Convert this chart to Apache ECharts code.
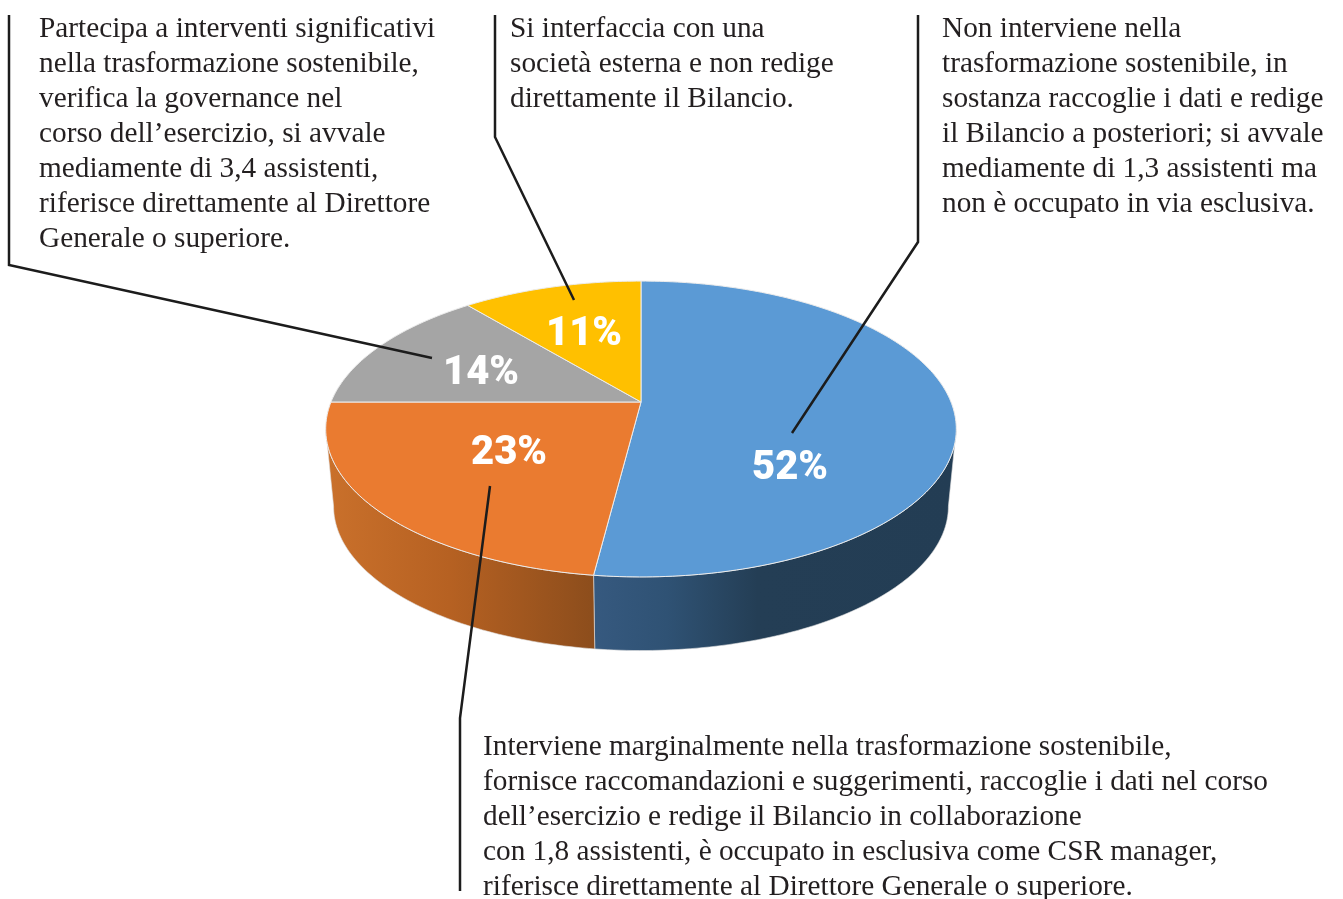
<!DOCTYPE html>
<html>
<head>
<meta charset="utf-8">
<title>Bilancio - ruolo del CSR manager</title>
<script src="https://cdn.jsdelivr.net/npm/echarts@6/dist/echarts.min.js"></script>
<style>
  html, body { margin: 0; padding: 0; background: #fff; }
  #chart { width: 1343px; height: 899px; }
</style>
</head>
<body>
<div id="chart"></div>
<script>
// values, clockwise from 12 o'clock
const categories = ['Non interviene', 'Marginalmente', 'Significativi', 'Societa esterna']
const shares = [52, 23, 14, 11]
const topColors = ['#5b9ad5', '#ea7b30', '#a5a5a5', '#ffc000']

const noteBlue = [
  'Non interviene nella',
  'trasformazione sostenibile, in',
  'sostanza raccoglie i dati e redige',
  'il Bilancio a posteriori; si avvale',
  'mediamente di 1,3 assistenti ma',
  'non è occupato in via esclusiva.'
]
const noteOrange = [
  'Interviene marginalmente nella trasformazione sostenibile,',
  'fornisce raccomandazioni e suggerimenti, raccoglie i dati nel corso',
  'dell’esercizio e redige il Bilancio in collaborazione',
  'con 1,8 assistenti, è occupato in esclusiva come CSR manager,',
  'riferisce direttamente al Direttore Generale o superiore.'
]
const noteGray = [
  'Partecipa a interventi significativi',
  'nella trasformazione sostenibile,',
  'verifica la governance nel',
  'corso dell’esercizio, si avvale',
  'mediamente di 3,4 assistenti,',
  'riferisce direttamente al Direttore',
  'Generale o superiore.'
]
const noteYellow = [
  'Si interfaccia con una',
  'società esterna e non redige',
  'direttamente il Bilancio.'
]

// pie is a circle seen in perspective, so the apex sits above the middle of the ellipse
const CX = 641, CY = 402, R = 310, PERSP = 0.1825, TILT = 143
const DEPTH = 78, BOTTOM_SCALE = 0.975
const SIDE_FROM = 100.5, SIDE_TO = 259.5

function project(deg, dy, scale) {
  const t = deg * Math.PI / 180
  const X = Math.sin(t), Y = -Math.cos(t)
  const w = 1 - PERSP * Y
  return [CX + R * scale * X / w, CY + dy + TILT * scale * Y / w]
}

function sliceRange(index) {
  const total = shares.reduce((a, b) => a + b, 0)
  const before = shares.slice(0, index).reduce((a, b) => a + b, 0)
  return [before / total * 360, (before + shares[index]) / total * 360]
}

function arc(from, to, dy, scale) {
  const pts = []
  const n = Math.max(2, Math.ceil(Math.abs(to - from)))
  for (let i = 0; i <= n; i++) pts.push(project(from + (to - from) * i / n, dy, scale))
  return pts
}

function sideFill(index) {
  if (index === 0) {
    return new echarts.graphic.LinearGradient(595, 0, 956, 0, [
      { offset: 0, color: '#36597f' },
      { offset: 0.2, color: '#2f5274' },
      { offset: 0.45, color: '#243e55' },
      { offset: 1, color: '#233d54' }
    ], true)
  }
  return new echarts.graphic.LinearGradient(330, 0, 595, 0, [
    { offset: 0, color: '#c9702b' },
    { offset: 0.45, color: '#b66122' },
    { offset: 1, color: '#8c4d1c' }
  ], true)
}

function renderSide(params) {
  const range = sliceRange(params.dataIndex)
  const from = Math.max(range[0], SIDE_FROM)
  const to = Math.min(range[1], SIDE_TO)
  if (to <= from) return null
  const points = arc(from, to, 0, 1).concat(arc(to, from, DEPTH, BOTTOM_SCALE))
  return {
    type: 'polygon',
    shape: { points: points },
    style: { fill: sideFill(params.dataIndex), stroke: '#e0e0e0', lineWidth: 0.6 }
  }
}

function renderTop(params, api) {
  const range = sliceRange(params.dataIndex)
  const points = [[CX, CY]].concat(arc(range[0], range[1], 0, 1))
  return {
    type: 'polygon',
    shape: { points: points },
    style: { fill: api.visual('color'), stroke: '#ececec', lineWidth: 1 }
  }
}

function textLines(lines, x, y) {
  return lines.map((line, i) => ({
    type: 'text',
    z: 20,
    x: x,
    y: y + i * 35,
    style: {
      text: line,
      fill: '#231f20',
      font: '29.3px "Liberation Serif", serif'
    }
  }))
}

function leader(points) {
  return {
    type: 'polyline',
    z: 30,
    shape: { points: points },
    style: { stroke: '#1c1c1c', lineWidth: 2.5, fill: null }
  }
}

function pctLabel(index, x, y) {
  return {
    type: 'text',
    z: 40,
    x: x,
    y: y,
    style: {
      text: shares[index] + '%',
      fill: '#fff',
      font: '900 40px Roboto, sans-serif',
      align: 'center',
      verticalAlign: 'middle'
    }
  }
}

const chart = echarts.init(document.getElementById('chart'))
chart.setOption({
  animation: false,
  backgroundColor: '#fff',
  series: [
    {
      type: 'custom',
      coordinateSystem: 'none',
      z: 2,
      silent: true,
      renderItem: renderSide,
      data: shares.map((v, i) => ({ name: categories[i], value: v }))
    },
    {
      type: 'custom',
      coordinateSystem: 'none',
      z: 3,
      silent: true,
      renderItem: renderTop,
      data: shares.map((v, i) => ({ name: categories[i], value: v, itemStyle: { color: topColors[i] } }))
    }
  ],
  graphic: [
    leader([[9, 15], [9, 265], [432, 358]]),
    leader([[495, 15], [495, 137], [574, 300]]),
    leader([[918, 15], [918, 242], [792, 433]]),
    leader([[490, 486], [460, 718], [460, 891]]),
    pctLabel(0, 790, 469),
    pctLabel(1, 509, 454),
    pctLabel(2, 481, 374),
    pctLabel(3, 584, 335)
  ].concat(
    textLines(noteGray, 39, 15),
    textLines(noteYellow, 510, 15),
    textLines(noteBlue, 942, 15),
    textLines(noteOrange, 483, 733)
  )
})
</script>
</body>
</html>
